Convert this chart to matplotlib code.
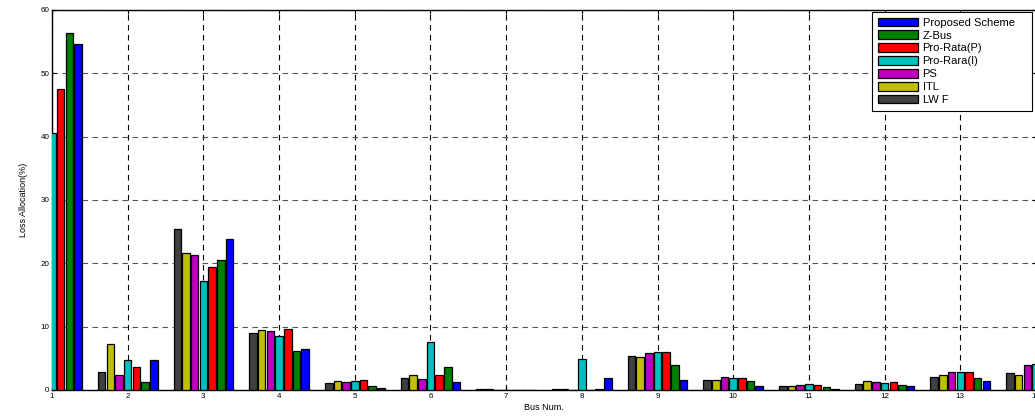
import numpy as np
import matplotlib
matplotlib.use("Agg")
import matplotlib.pyplot as plt

plt.rcParams['font.family'] = ['Liberation Sans', 'DejaVu Sans']

# bus numbers and loss allocation (%) per method
buses = np.arange(1, 15)
lwf      = [42.0, 2.8, 25.4, 9.05, 1.05, 1.85, 0.1, 0.1, 5.4, 1.65, 0.7, 1.0, 2.1, 2.7]
itl      = [44.0, 7.3, 21.6, 9.4, 1.4, 2.4, 0.1, 0.1, 5.2, 1.6, 0.7, 1.5, 2.4, 2.4]
ps       = [45.0, 2.3, 21.3, 9.3, 1.2, 1.8, 0.05, 0.05, 5.8, 2.05, 0.75, 1.2, 2.85, 4.0]
prorar_i = [40.6, 4.8, 17.2, 8.6, 1.4, 7.6, 0.05, 4.9, 6.05, 1.95, 0.9, 1.1, 2.8, 4.1]
prorat_p = [47.6, 3.7, 19.4, 9.7, 1.6, 2.4, 0.05, 0.05, 6.05, 1.85, 0.75, 1.2, 2.85, 4.2]
zbus     = [56.3, 1.2, 20.5, 6.2, 0.6, 3.6, 0.0, 0.2, 3.9, 1.4, 0.5, 0.75, 1.95, 2.8]
proposed = [54.6, 4.7, 23.9, 6.5, 0.3, 1.2, 0.0, 1.85, 1.6, 0.6, 0.2, 0.65, 1.5, 2.3]

series = [
    ("LW F", lwf, "#404040"),
    ("ITL", itl, "#BFBF00"),
    ("PS", ps, "#BF00BF"),
    ("Pro-Rara(I)", prorar_i, "#00BFBF"),
    ("Pro-Rata(P)", prorat_p, "#FF0000"),
    ("Z-Bus", zbus, "#008000"),
    ("Proposed Scheme", proposed, "#0000FF"),
]

fig = plt.figure(figsize=(10.35, 4.16), dpi=100)
ax = fig.add_axes([52/1035, 26/416, 984/1035, 380/416])

step = 0.1147
handles = []
for i, (name, vals, col) in enumerate(series):
    b = ax.bar(buses + (i - 3) * step, vals, width=0.1, color=col,
               edgecolor='black', linewidth=0.9, zorder=3)
    handles.append((b, name))

ax.set_xlim(1, 14)
ax.set_ylim(0, 60)
ax.set_xticks(buses)
ax.set_yticks(np.arange(0, 61, 10))
ax.tick_params(direction='in', top=True, right=True, labelsize=5.8, length=3, pad=2)

ax.xaxis.grid(True, color='black', linestyle=(0, (5, 4)), linewidth=0.8)
ax.yaxis.grid(True, color='#555555', linestyle=(0, (5, 4)), linewidth=0.8)
ax.set_axisbelow(True)
for s in ax.spines.values():
    s.set_linewidth(1.0)

ax.set_xlabel("Bus Num.", fontsize=6.5, labelpad=2)
ax.set_ylabel("Loss Allocation(%)", fontsize=6.5, labelpad=9)

hs = [h for h, n in handles][::-1]
ns = [n for h, n in handles][::-1]
# legend box roughly x 872..1032, y 12..109 px
leg = ax.legend(hs, ns, loc='upper left', mode='expand',
                bbox_to_anchor=(820/984, 281/380, 160/984, 97/380),
                fontsize=8, handlelength=3.6, handleheight=0.8, labelspacing=0.25,
                handletextpad=0.45, borderpad=0.5, borderaxespad=0,
                fancybox=False, framealpha=1, edgecolor='black')
leg.get_frame().set_linewidth(0.8)

fig.savefig("out.png", dpi=100)
